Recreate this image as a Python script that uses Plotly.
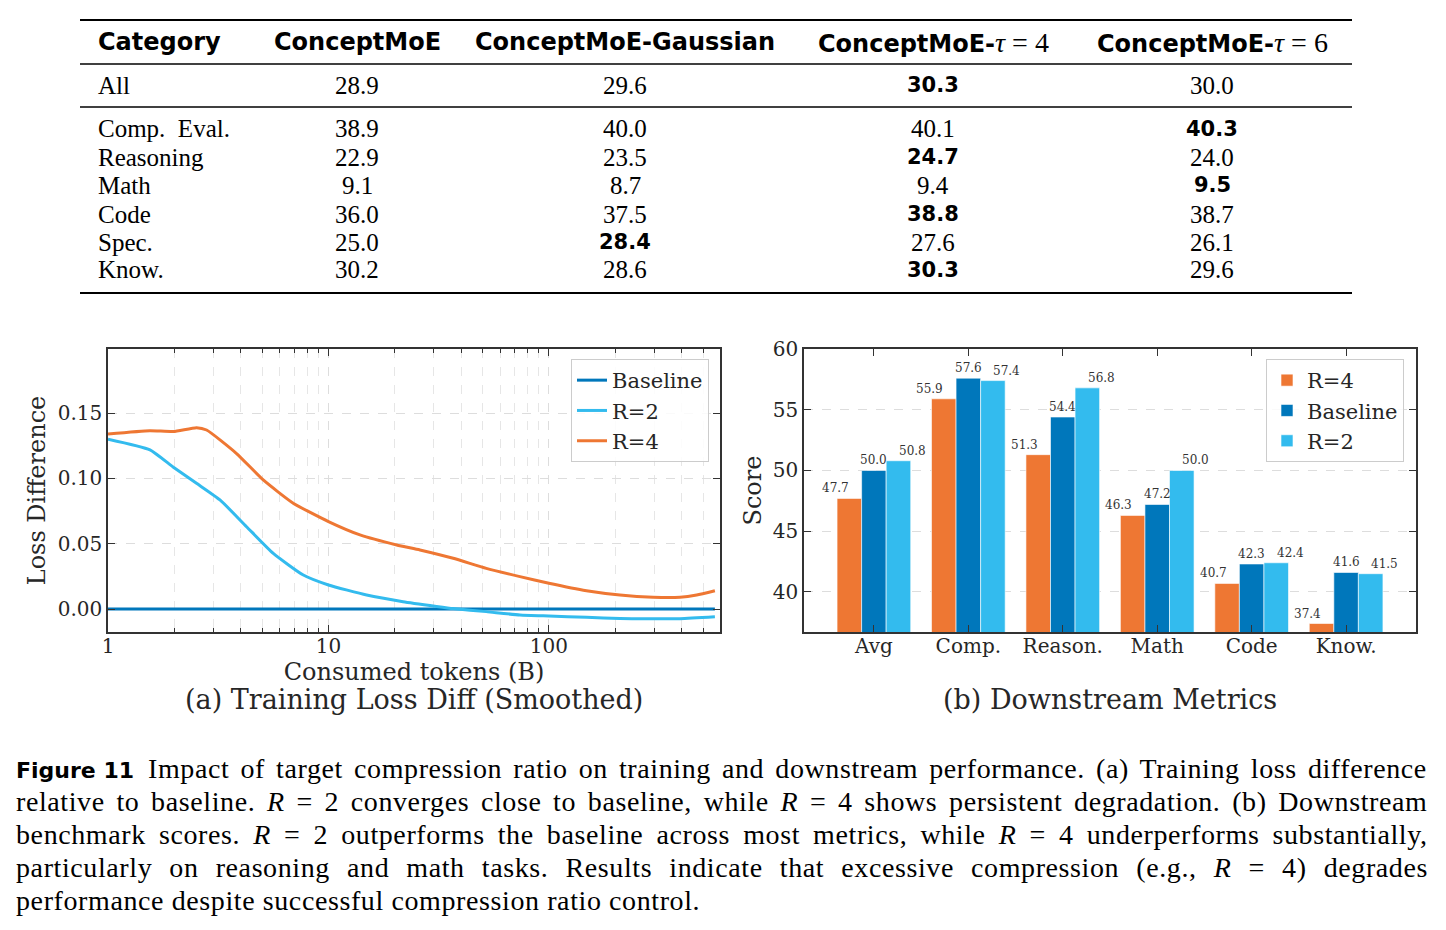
import plotly.graph_objects as go

W, H = 1446, 930

# ---------------- data ----------------
table_header = ["Category", "ConceptMoE", "ConceptMoE-Gaussian", "ConceptMoE-τ = 4", "ConceptMoE-τ = 6"]
table_categories = ["All", "Comp.  Eval.", "Reasoning", "Math", "Code", "Spec.", "Know."]
conceptmoe = [28.9, 38.9, 22.9, 9.1, 36.0, 25.0, 30.2]
gaussian = [29.6, 40.0, 23.5, 8.7, 37.5, 28.4, 28.6]
tau4 = [30.3, 40.1, 24.7, 9.4, 38.8, 27.6, 30.3]
tau6 = [30.0, 40.3, 24.0, 9.5, 38.7, 26.1, 29.6]

tokens_r4 = [1, 1.55, 1.98, 2.52, 2.8, 3.83, 5.06, 6.92, 10, 13.9, 20.4, 26, 36.8, 52, 73.9, 100, 148, 210, 297, 393, 468, 566]
loss_r4 = [0.134, 0.1365, 0.1358, 0.1388, 0.137, 0.119, 0.0988, 0.081, 0.0669, 0.0567, 0.049, 0.0452, 0.0388,
           0.0311, 0.0248, 0.0197, 0.014, 0.0107, 0.009, 0.009, 0.0107, 0.014]
tokens_r2 = [1, 1.55, 1.98, 2.52, 3.22, 4.25, 5.62, 7.69, 10, 14.9, 21.8, 30.9, 36.8, 52, 73.9, 100, 148, 210, 393, 566]
loss_r2 = [0.130, 0.1218, 0.1085, 0.0962, 0.0835, 0.063, 0.0426, 0.026, 0.0184, 0.0107, 0.0056, 0.002, 0.0003,
           -0.002, -0.0046, -0.0054, -0.0064, -0.0072, -0.0074, -0.006]
tokens_base = [1, 566]
loss_base = [0.0, 0.0]

metrics = ["Avg", "Comp.", "Reason.", "Math", "Code", "Know."]
score_r4 = [47.7, 55.9, 51.3, 46.3, 40.7, 37.4]
score_base = [50.0, 57.6, 54.4, 47.2, 42.3, 41.6]
score_r2 = [50.8, 57.4, 56.8, 50.0, 42.4, 41.5]

caption_lines = [
    "Impact of target compression ratio on training and downstream performance. (a) Training loss difference",
    "relative to baseline. <i>R</i> = 2 converges close to baseline, while <i>R</i> = 4 shows persistent degradation. (b) Downstream",
    "benchmark scores. <i>R</i> = 2 outperforms the baseline across most metrics, while <i>R</i> = 4 underperforms substantially,",
    "particularly on reasoning and math tasks. Results indicate that excessive compression (e.g., <i>R</i> = 4) degrades",
    "performance despite successful compression ratio control.",
]
caption_word_spacing = [3.5, 4.1, 5.5, 9.5, 0]

# ---------------- styling ----------------
ORANGE = "#EE7733"
BLUE = "#0077BB"
CYAN = "#33BBEE"
SERIF_PLOT = "DejaVu Serif"
SERIF_TEXT = "Liberation Serif"
SANS = "DejaVu Sans"
AX = "#333333"
TXT = "#262626"


def px(x):
    return x / W


def py(y):
    return 1 - y / H


fig = go.Figure()

# ---- left: loss curves ----
fig.add_trace(go.Scatter(x=tokens_base, y=loss_base, mode="lines", name="Baseline",
                         line=dict(color=BLUE, width=3), xaxis="x", yaxis="y", legend="legend"))
fig.add_trace(go.Scatter(x=tokens_r2, y=loss_r2, mode="lines", name="R=2",
                         line=dict(color=CYAN, width=3, shape="spline", smoothing=0.5),
                         xaxis="x", yaxis="y", legend="legend"))
fig.add_trace(go.Scatter(x=tokens_r4, y=loss_r4, mode="lines", name="R=4",
                         line=dict(color=ORANGE, width=3, shape="spline", smoothing=0.5),
                         xaxis="x", yaxis="y", legend="legend"))

# ---- right: bars ----
bw = 0.26
series = [("R=4", score_r4, ORANGE, -bw, -14), ("Baseline", score_base, BLUE, 0.0, 0), ("R=2", score_r2, CYAN, bw, 14)]
annotations = []
for name, vals, col, off, shift in series:
    xs = [i + off for i in range(len(metrics))]
    fig.add_trace(go.Bar(x=xs, y=vals, width=bw, name=name, marker=dict(color=col, line=dict(color="white", width=0.6)),
                         xaxis="x2", yaxis="y2", legend="legend2"))
    for xv, v in zip(xs, vals):
        annotations.append(dict(x=xv, y=v, xref="x2", yref="y2", text=f"{v:.1f}", showarrow=False,
                                yanchor="bottom", xanchor="center", xshift=shift, yshift=1,
                                font=dict(family=SERIF_PLOT, size=12, color="#333333")))

axis_common = dict(showline=True, linecolor=AX, linewidth=1.5, mirror="ticks", ticks="inside", ticklen=7,
                   tickwidth=1.2, tickcolor=AX, zeroline=False,
                   tickfont=dict(family=SERIF_PLOT, size=20, color=TXT), automargin=False)
grid = dict(showgrid=True, gridcolor="#dddddd", gridwidth=0.8, griddash="dash")

minor_vals = [m * 10 ** k for k in range(3) for m in range(2, 10) if m * 10 ** k < 600]

fig.update_layout(
    xaxis=dict(domain=[px(108), px(720)], type="log", range=[0, 2.776], anchor="y",
               tickvals=[1, 10, 100], ticktext=["1", "10", "100"], ticklabelstandoff=-5,
               minor=dict(tickmode="array", tickvals=minor_vals, ticks="inside", ticklen=4, tickcolor=AX,
                          showgrid=True, gridcolor="#e6e6e6", griddash="dash", gridwidth=0.7),
               title=dict(text="Consumed tokens (B)", font=dict(family=SERIF_PLOT, size=24, color=TXT), standoff=4),
               **axis_common, **grid),
    yaxis=dict(domain=[py(632), py(349)], range=[-0.0176, 0.199], anchor="x",
               tickvals=[0, 0.05, 0.10, 0.15], ticktext=["0.00", "0.05", "0.10", "0.15"],
               title=dict(text="Loss Difference", font=dict(family=SERIF_PLOT, size=24, color=TXT), standoff=5),
               **axis_common, **grid),
    xaxis2=dict(domain=[px(804), px(1416)], range=[-0.74, 5.74], anchor="y2", ticklabelstandoff=-5,
                tickvals=list(range(len(metrics))), ticktext=metrics, showgrid=False, **axis_common),
    yaxis2=dict(domain=[py(632), py(349)], range=[36.7, 60], anchor="x2",
                tickvals=[40, 45, 50, 55, 60],
                title=dict(text="Score", font=dict(family=SERIF_PLOT, size=24, color=TXT), standoff=4),
                **axis_common, **grid),
    legend=dict(x=px(709), y=py(359), xanchor="right", yanchor="top", bgcolor="rgba(255,255,255,0.85)",
                bordercolor="#cccccc", borderwidth=1, font=dict(family=SERIF_PLOT, size=21, color=TXT),
                tracegroupgap=0),
    legend2=dict(x=px(1404), y=py(359), xanchor="right", yanchor="top", bgcolor="rgba(255,255,255,0.85)",
                 bordercolor="#cccccc", borderwidth=1, font=dict(family=SERIF_PLOT, size=21, color=TXT),
                 tracegroupgap=0),
    barmode="overlay",
)

# subplot captions
for xc, txt in [(414, "(a) Training Loss Diff (Smoothed)"), (1110, "(b) Downstream Metrics")]:
    annotations.append(dict(x=px(xc), y=py(699), xref="paper", yref="paper", text=txt, showarrow=False,
                            xanchor="center", yanchor="middle", font=dict(family=SERIF_PLOT, size=27, color=TXT)))

# ---- table ----
col_x = [96, 357, 625, 933, 1212]
header_y = 42
row_y = [85, 129, 157, 185, 214, 242, 270]
for j, h in enumerate(table_header):
    if "τ" in h:
        base, rest = h.split("τ")
        txt = (f"<b>{base}</b><span style='font-family:{SERIF_TEXT};font-weight:normal;font-size:28px'>"
               f"<i>τ</i>{rest}</span>")
    else:
        txt = f"<b>{h}</b>"
    annotations.append(dict(x=px(col_x[j]), y=py(header_y), xref="paper", yref="paper", text=txt, showarrow=False,
                            xanchor="left" if j == 0 else "center", yanchor="middle",
                            font=dict(family=SANS, size=24, color="black")))
cols = [conceptmoe, gaussian, tau4, tau6]
for i, cat in enumerate(table_categories):
    annotations.append(dict(x=px(col_x[0]), y=py(row_y[i]), xref="paper", yref="paper", text=cat, showarrow=False,
                            xanchor="left", yanchor="middle", font=dict(family=SERIF_TEXT, size=25, color="black")))
    vals = [c[i] for c in cols]
    best = vals.index(max(vals))
    for j, v in enumerate(vals):
        if j == best:
            t, f = f"<b>{v:.1f}</b>", dict(family=SANS, size=21, color="black")
        else:
            t, f = f"{v:.1f}", dict(family=SERIF_TEXT, size=25, color="black")
        annotations.append(dict(x=px(col_x[j + 1]), y=py(row_y[i]), xref="paper", yref="paper", text=t,
                                showarrow=False, xanchor="center", yanchor="middle", font=f))

shapes = []
for yy, lw in [(20, 2.2), (64, 1.3), (107, 1.3), (293, 2.2)]:
    shapes.append(dict(type="line", xref="paper", yref="paper", x0=px(80), x1=px(1352), y0=py(yy), y1=py(yy),
                       line=dict(color="black", width=lw)))

# ---- caption ----
cap_y = [768, 801, 834, 867, 900]
for k, line in enumerate(caption_lines):
    body = f"<span style='letter-spacing:0.6px;word-spacing:{caption_word_spacing[k]}px'>{line}</span>"
    if k == 0:
        body = f"<span style='font-family:{SANS};font-size:22px'><b>Figure 11</b></span>  " + body
    annotations.append(dict(x=px(14), y=py(cap_y[k]), xref="paper", yref="paper", text=body, showarrow=False,
                            xanchor="left", yanchor="middle", font=dict(family=SERIF_TEXT, size=28, color="black")))

fig.update_layout(annotations=annotations, shapes=shapes, width=W, height=H, autosize=False,
                  margin=dict(l=0, r=0, t=0, b=0), template="none",
                  paper_bgcolor="white", plot_bgcolor="white", showlegend=True)

fig.write_html("out.html")
